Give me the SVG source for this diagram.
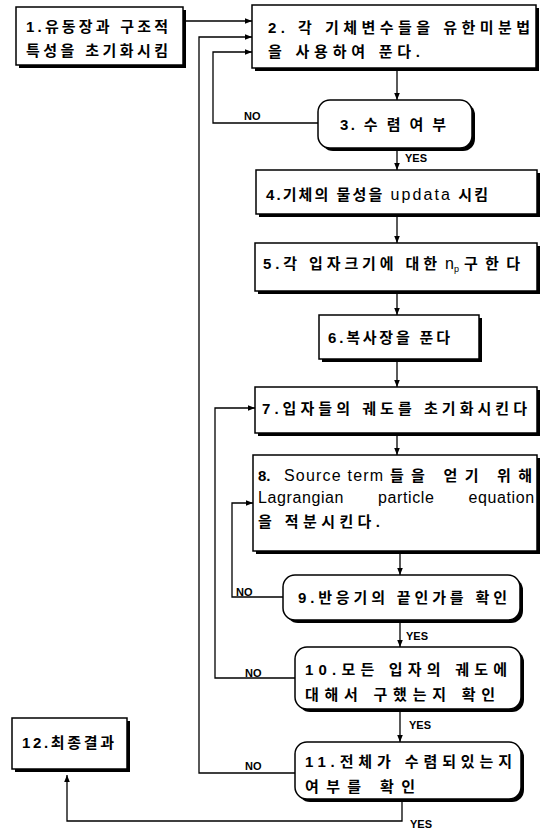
<svg xmlns="http://www.w3.org/2000/svg" width="542" height="832" viewBox="0 0 542 832">
<defs>
<marker id="ah" viewBox="0 0 10 10" refX="10" refY="5" markerWidth="7" markerHeight="7" orient="auto" markerUnits="userSpaceOnUse">
<path d="M0,1 L10,5 L0,9 Z" fill="#000"/>
</marker>
</defs>
<style>
.bx{fill:#fff;stroke:#000;stroke-width:1.5}
.sh{fill:#000}
.t{font-family:"Liberation Sans","Noto Sans CJK KR",sans-serif;font-weight:bold;font-size:15px;fill:#000}
.n{font-weight:normal;font-size:16px}
.sub{font-weight:normal;font-size:9px}
.lb{font-family:"Liberation Sans",sans-serif;font-weight:bold;font-size:11px;fill:#000}
.c{fill:none;stroke:#000;stroke-width:1.3}
</style>
<rect width="542" height="832" fill="#fff"/>
<g id="connectors">
<path class="c" d="M183,21 H252" marker-end="url(#ah)"/>
<path class="c" d="M397,68 V100" marker-end="url(#ah)"/>
<path class="c" d="M397,151 V170" marker-end="url(#ah)"/>
<path class="c" d="M397,217 V243" marker-end="url(#ah)"/>
<path class="c" d="M397,294 V315" marker-end="url(#ah)"/>
<path class="c" d="M397,362 V387" marker-end="url(#ah)"/>
<path class="c" d="M397,436 V455" marker-end="url(#ah)"/>
<path class="c" d="M400,554 V575" marker-end="url(#ah)"/>
<path class="c" d="M400,623 V647" marker-end="url(#ah)"/>
<path class="c" d="M400,712 V742" marker-end="url(#ah)"/>
<path class="c" d="M402,802 V821 H67 V775" marker-end="url(#ah)"/>
<path class="c" d="M318,123 H213 V52 H252" marker-end="url(#ah)"/>
<path class="c" d="M283,597 H232 V503 H253" marker-end="url(#ah)"/>
<path class="c" d="M295,678 H215 V408 H255" marker-end="url(#ah)"/>
<path class="c" d="M295,773 H199 V37 H252" marker-end="url(#ah)"/>
<text class="lb" x="244" y="120">NO</text>
<text class="lb" x="405" y="162">YES</text>
<text class="lb" x="236" y="596">NO</text>
<text class="lb" x="406" y="640">YES</text>
<text class="lb" x="245" y="677">NO</text>
<text class="lb" x="409" y="729">YES</text>
<text class="lb" x="245" y="770">NO</text>
<text class="lb" x="410" y="828">YES</text>
</g>
<g id="n1">
<rect class="sh" x="19" y="10" width="167" height="58"/>
<rect class="bx" x="16" y="7" width="167" height="58"/>
<text class="t" x="26" y="32" textLength="142" lengthAdjust="spacing">1.유동장과 구조적</text>
<text class="t" x="26" y="56" textLength="142" lengthAdjust="spacing">특성을 초기화시킴</text>
</g>
<g id="n2">
<rect class="sh" x="255" y="8" width="284" height="63"/>
<rect class="bx" x="252" y="5" width="284" height="63"/>
<text class="t" x="268" y="33" textLength="262" lengthAdjust="spacing">2. 각 기체변수들을 유한미분법</text>
<text class="t" x="268" y="57" textLength="152" lengthAdjust="spacing">을 사용하여 푼다.</text>
</g>
<g id="n3">
<rect class="sh" x="321" y="103" width="154" height="48" rx="12"/>
<rect class="bx" x="318" y="100" width="154" height="48" rx="12"/>
<text class="t" x="340" y="130" textLength="106" lengthAdjust="spacing">3. 수 렴 여 부</text>
</g>
<g id="n4">
<rect class="sh" x="259" y="173" width="281" height="44"/>
<rect class="bx" x="256" y="170" width="281" height="44"/>
<text class="t" x="266" y="200" textLength="222" lengthAdjust="spacing">4.기체의 물성을 <tspan class="n">updata</tspan> 시킴</text>
</g>
<g id="n5">
<rect class="sh" x="258" y="246" width="282" height="48"/>
<rect class="bx" x="255" y="243" width="282" height="48"/>
<text class="t" x="263" y="269" textLength="174" lengthAdjust="spacing">5.각 입자크기에 대한</text>
<text class="t n" x="445" y="269">n</text>
<text class="t sub" x="454" y="272">p</text>
<text class="t" x="464" y="269" textLength="56" lengthAdjust="spacing">구한다</text>
</g>
<g id="n6">
<rect class="sh" x="322" y="318" width="160" height="44"/>
<rect class="bx" x="319" y="315" width="160" height="44"/>
<text class="t" x="328" y="343" textLength="122" lengthAdjust="spacing">6.복사장을 푼다</text>
</g>
<g id="n7">
<rect class="sh" x="258" y="390" width="282" height="46"/>
<rect class="bx" x="255" y="387" width="282" height="46"/>
<text class="t" x="262" y="414" textLength="265" lengthAdjust="spacing">7.입자들의 궤도를 초기화시킨다</text>
</g>
<g id="n8">
<rect class="sh" x="256" y="458" width="284" height="96"/>
<rect class="bx" x="253" y="455" width="284" height="96"/>
<text class="t" x="258" y="481">8.</text>
<text class="t n" x="284" y="481" letter-spacing="1.2">Source term</text>
<text class="t" x="390" y="481" textLength="142" lengthAdjust="spacing">들을 얻기 위해</text>
<text class="t n" x="258" y="503" word-spacing="29" letter-spacing="0.6">Lagrangian particle equation</text>
<text class="t" x="258" y="527" textLength="122" lengthAdjust="spacing">을 적분시킨다.</text>
</g>
<g id="n9">
<rect class="sh" x="286" y="578" width="237" height="45" rx="12"/>
<rect class="bx" x="283" y="575" width="237" height="45" rx="12"/>
<text class="t" x="298" y="603" textLength="209" lengthAdjust="spacing">9.반응기의 끝인가를 확인</text>
</g>
<g id="n10">
<rect class="sh" x="298" y="650" width="226" height="62" rx="12"/>
<rect class="bx" x="295" y="647" width="226" height="62" rx="12"/>
<text class="t" x="305" y="675" textLength="202" lengthAdjust="spacing">10.모든 입자의 궤도에</text>
<text class="t" x="305" y="700" textLength="190" lengthAdjust="spacing">대해서 구했는지 확인</text>
</g>
<g id="n11">
<rect class="sh" x="298" y="745" width="226" height="57" rx="12"/>
<rect class="bx" x="295" y="742" width="226" height="57" rx="12"/>
<text class="t" x="305" y="767" textLength="207" lengthAdjust="spacing">11.전체가 수렴되있는지</text>
<text class="t" x="305" y="792" textLength="110" lengthAdjust="spacing">여부를 확인</text>
</g>
<g id="n12">
<rect class="sh" x="15" y="721" width="115" height="51"/>
<rect class="bx" x="12" y="718" width="115" height="51"/>
<text class="t" x="22" y="748" textLength="92" lengthAdjust="spacing">12.최종결과</text>
</g>
</svg>
